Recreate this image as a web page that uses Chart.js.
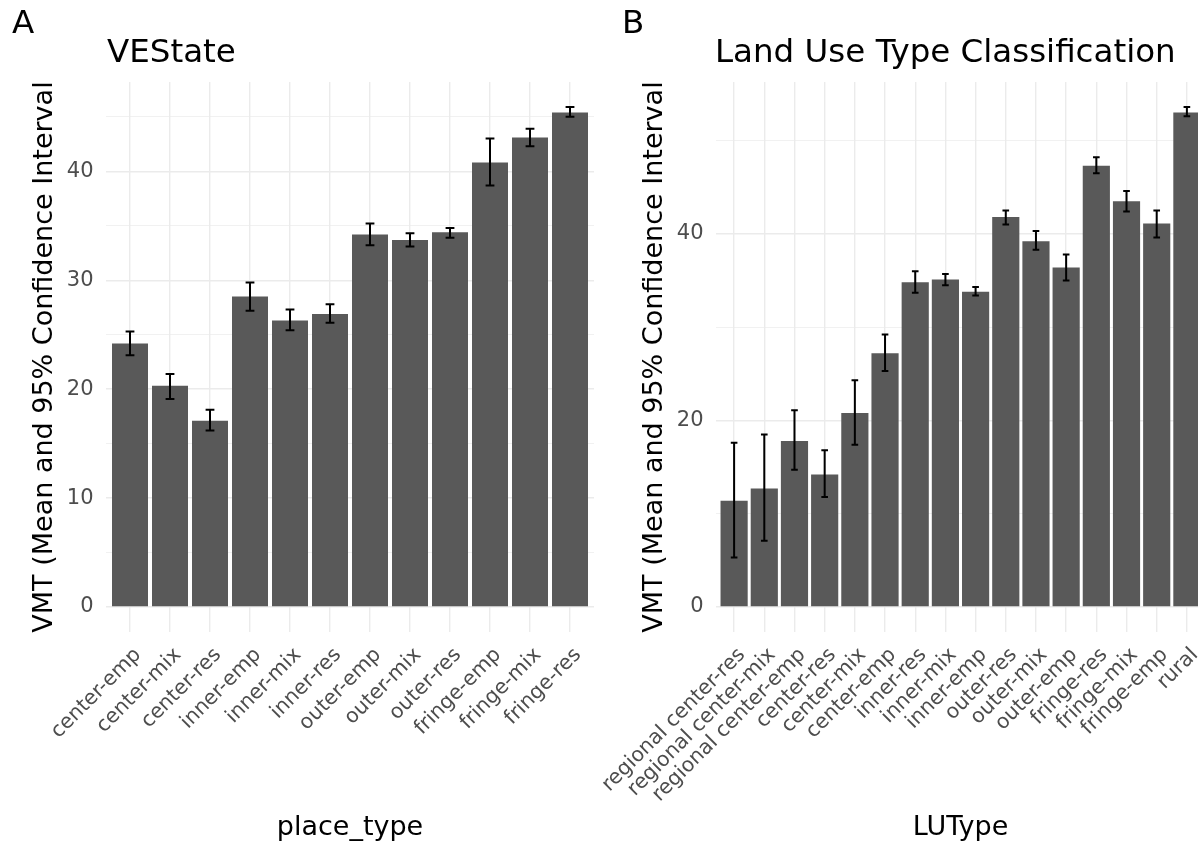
<!DOCTYPE html>
<html lang="en">
<head>
    <meta charset="UTF-8">
    <title>VMT by place type and land use type</title>
    <script src="https://cdn.jsdelivr.net/npm/chart.js"></script>
    <style>
        html, body {
            margin: 0;
            padding: 0;
            background: #fff;
            overflow: hidden;
        }
        #page {
            position: relative;
            width: 1198px;
            height: 845px;
            overflow: hidden;
            font-family: 'DejaVu Sans', sans-serif;
        }
        canvas {
            position: absolute;
            top: 0;
        }
        .tag, .title {
            position: absolute;
            font-size: 32.5px;
            line-height: 1;
            color: #000;
            white-space: nowrap;
        }
    </style>
</head>
<body>
<div id="page">
    <canvas id="chartA" width="600" height="860" style="left:0px"></canvas>
    <canvas id="chartB" width="620" height="860" style="left:600px"></canvas>

    <div class="tag" style="left:12px; top:6px;">A</div>
    <div class="title" style="left:107px; top:35px;">VEState</div>
    <div class="tag" style="left:622px; top:6px;">B</div>
    <div class="title" style="left:715px; top:35px;">Land Use Type Classification</div>
</div>

<script>
    // panel A: place types
    const placeTypes = ['center-emp', 'center-mix', 'center-res', 'inner-emp', 'inner-mix', 'inner-res',
        'outer-emp', 'outer-mix', 'outer-res', 'fringe-emp', 'fringe-mix', 'fringe-res'];
    const placeMean  = [24.2, 20.3, 17.1, 28.5, 26.3, 26.9, 34.2, 33.7, 34.4, 40.8, 43.1, 45.4];
    const placeLower = [23.1, 19.1, 16.2, 27.2, 25.4, 26.1, 33.2, 33.1, 33.9, 38.7, 42.3, 45.0];
    const placeUpper = [25.3, 21.4, 18.1, 29.8, 27.3, 27.8, 35.2, 34.3, 34.8, 43.0, 43.9, 45.9];

    // panel B: land use types
    const luTypes = ['regional center-res', 'regional center-mix', 'regional center-emp', 'center-res',
        'center-mix', 'center-emp', 'inner-res', 'inner-mix', 'inner-emp', 'outer-res', 'outer-mix',
        'outer-emp', 'fringe-res', 'fringe-mix', 'fringe-emp', 'rural'];
    const luMean  = [11.4, 12.7, 17.8, 14.2, 20.8, 27.2, 34.8, 35.1, 33.8, 41.8, 39.2, 36.4, 47.3, 43.5, 41.1, 53.0];
    const luLower = [5.3, 7.1, 14.7, 11.8, 17.4, 25.3, 33.7, 34.5, 33.4, 41.0, 38.3, 35.0, 46.5, 42.4, 39.6, 52.6];
    const luUpper = [17.6, 18.5, 21.1, 16.8, 24.3, 29.2, 36.0, 35.7, 34.3, 42.5, 40.3, 37.8, 48.2, 44.6, 42.5, 53.6];

    // y tick labels and minor grid lines
    const yTicksA = [0, 10, 20, 30, 40];
    const yMinorA = [5, 15, 25, 35, 45];
    const yTicksB = [0, 20, 40];
    const yMinorB = [10, 30, 50];

    const FONT = 'DejaVu Sans';
    const yTitle = 'VMT (Mean and 95% Confidence Interval';

    Chart.defaults.font.family = FONT;

    function errorBarPlugin(lower, upper, capFrac) {
        return {
            id: 'errorBars',
            afterDatasetsDraw(chart) {
                const { ctx, scales: { x, y } } = chart;
                const half = (x.getPixelForValue(1) - x.getPixelForValue(0)) * capFrac / 2;
                ctx.save();
                ctx.strokeStyle = '#000';
                ctx.lineWidth = 2;
                lower.forEach((lo, i) => {
                    const px = x.getPixelForValue(i);
                    const yLo = y.getPixelForValue(lo);
                    const yHi = y.getPixelForValue(upper[i]);
                    ctx.beginPath();
                    ctx.moveTo(px, yLo);
                    ctx.lineTo(px, yHi);
                    ctx.moveTo(px - half, yLo);
                    ctx.lineTo(px + half, yLo);
                    ctx.moveTo(px - half, yHi);
                    ctx.lineTo(px + half, yHi);
                    ctx.stroke();
                });
                ctx.restore();
            }
        };
    }

    function makeChart(id, p) {
        const top = Math.max(...p.upper);
        const majors = p.majors;
        const allTicks = [...p.majors, ...p.minors].sort((a, b) => a - b);

        return new Chart(document.getElementById(id), {
            type: 'bar',
            data: {
                datasets: [{
                    data: p.mean.map((v, i) => ({ x: i, y: v })),
                    backgroundColor: '#595959',
                    borderWidth: 0,
                    categoryPercentage: 1,
                    barPercentage: 0.9
                }]
            },
            options: {
                responsive: false,
                animation: false,
                events: [],
                layout: { padding: { left: 0, top: 82, right: p.padRight, bottom: 0 } },
                plugins: {
                    legend: { display: false },
                    tooltip: { enabled: false }
                },
                scales: {
                    x: {
                        type: 'linear',
                        offset: false,
                        min: -0.6,
                        max: p.labels.length - 1 + 0.6,
                        afterBuildTicks: s => { s.ticks = p.labels.map((_, i) => ({ value: i })); },
                        afterFit: s => {
                            s.height = 860 - 632;
                            // long rotated labels may run past the panel, keep the plot area fixed
                            s.paddingLeft = 0;
                            s.paddingRight = 0;
                        },
                        grid: { color: '#ebebeb', lineWidth: 1.4, drawTicks: false, offset: false },
                        border: { display: false },
                        ticks: {
                            autoSkip: false,
                            maxRotation: 45,
                            minRotation: 45,
                            padding: 11,
                            labelOffset: 8,
                            color: '#4d4d4d',
                            font: { family: FONT, size: 20.5 },
                            callback: v => p.labels[v]
                        },
                        title: {
                            display: true,
                            text: p.xTitle,
                            color: '#000',
                            font: { family: FONT, size: 27 },
                            padding: { top: 0, bottom: 16 }
                        }
                    },
                    y: {
                        min: -top * 0.05,
                        max: top * 1.05,
                        afterBuildTicks: s => { s.ticks = allTicks.map(v => ({ value: v })); },
                        afterFit: s => {
                            s.width = p.yWidth;
                            s.paddingTop = 0;
                            s.paddingBottom = 0;
                        },
                        grid: {
                            drawTicks: false,
                            color: '#ebebeb',
                            lineWidth: c => majors.includes(c.tick.value) ? 1.4 : 0.7
                        },
                        border: { display: false },
                        ticks: {
                            padding: 12.5,
                            color: '#4d4d4d',
                            font: { family: FONT, size: 21 },
                            callback: v => majors.includes(v) ? String(v) : ''
                        },
                        title: {
                            display: true,
                            text: yTitle,
                            color: '#000',
                            font: { family: FONT, size: 27 },
                            padding: { top: p.yTitlePad, bottom: 0 }
                        }
                    }
                }
            },
            plugins: [errorBarPlugin(p.lower, p.upper, p.cap)]
        });
    }

    makeChart('chartA', {
        labels: placeTypes, mean: placeMean, lower: placeLower, upper: placeUpper,
        majors: yTicksA, minors: yMinorA, xTitle: 'place_type',
        yWidth: 106, yTitlePad: 28.3, padRight: 6, cap: 0.22
    });

    makeChart('chartB', {
        labels: luTypes, mean: luMean, lower: luLower, upper: luUpper,
        majors: yTicksB, minors: yMinorB, xTitle: 'LUType',
        yWidth: 116, yTitlePad: 38.3, padRight: 15, cap: 0.22
    });
</script>
</body>
</html>
